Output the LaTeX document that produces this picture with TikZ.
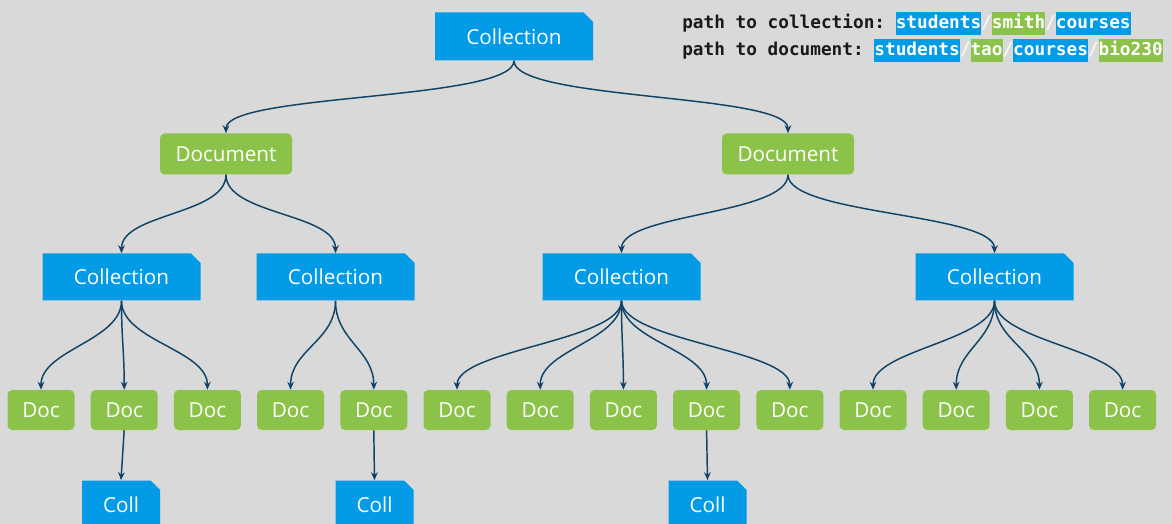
\documentclass[tikz,border=0pt]{standalone}
\usepackage{fontspec}
\setmainfont{Open Sans}
\newfontfamily\pathfont{DejaVu Sans Mono}
\usepackage{tikz}
\usetikzlibrary{arrows.meta}
\usetikzlibrary{shapes.misc}
\definecolor{collblue}{HTML}{039BE5}
\definecolor{docgreen}{HTML}{8BC34A}
\definecolor{bggray}{HTML}{D9D9D9}
\definecolor{linkblue}{HTML}{0F4468}
\newcommand{\pathpart}[2]{{\setlength{\fboxsep}{0pt}\colorbox{#1}{\rule[-4.5pt]{0pt}{17.25pt}\color{white}#2}}}
\newcommand{\pathslash}{{\color{white!85!bggray}/}}

\begin{document}
\begin{tikzpicture}[x=0.75pt, y=-0.75pt,
    coll/.style={chamfered rectangle, chamfered rectangle corners=north east,
        chamfered rectangle xsep=3.5pt, chamfered rectangle ysep=3.5pt,
        fill=collblue, text=white, inner sep=0pt, minimum width=118.5pt, minimum height=36pt,
        font=\fontsize{15.5}{18}\selectfont},
    doc/.style={rounded corners=3.5pt, fill=docgreen, text=white, inner sep=0pt,
        minimum width=50.25pt, minimum height=30pt, font=\fontsize{15.5}{18}\selectfont},
    link/.style={draw=linkblue, line width=1.1pt, -{Stealth[length=6pt, width=5pt]},
        to path={.. controls +(0,40) and +(0,-40) .. (\tikztotarget)}},
    sublink/.style={draw=linkblue, line width=1.1pt, -{Stealth[length=6pt, width=5pt]}},
    pathtext/.style={inner sep=0pt, anchor=base west, text=black!90,
        font=\pathfont\bfseries\fontsize{13.3}{16}\selectfont\frenchspacing}]
    \useasboundingbox (0, 0) rectangle (1172, 524);
    \clip (0, 0) rectangle (1172, 524);
    \fill[bggray] (0, 0) rectangle (1172, 524);

    \node[coll] (root) at (514, 36.5) {Collection};
    \node[doc, minimum width=99pt, minimum height=30.75pt] (docL) at (226, 154) {Document};
    \node[doc, minimum width=99pt, minimum height=30.75pt] (docR) at (788, 154) {Document};
    \foreach \n/\x in {A/121.5, B/335.5, C/621.5, D/994.5}
        \node[coll, minimum height=35.25pt] (coll\n) at (\x, 277) {Collection};
    \foreach \i in {1,...,14}
        \node[doc] (d\i) at ({41+83.2*(\i-1)}, 410) {Doc};
    \foreach \n/\x in {1/121, 2/374.5, 3/707.5}
        \node[coll, minimum width=58.5pt] (c\n) at (\x, 504.5) {Coll};

    \foreach \a/\b in {root/docL, root/docR, docL/collA, docL/collB, docR/collC, docR/collD,
        collA/d1, collA/d2, collA/d3, collB/d4, collB/d5,
        collC/d6, collC/d7, collC/d8, collC/d9, collC/d10,
        collD/d11, collD/d12, collD/d13, collD/d14}
        \draw[link] (\a.south) to (\b.north);
    \foreach \a/\b in {d2/c1, d5/c2, d9/c3}
        \draw[sublink] (\a.south) -- (\b.north);

    \node[pathtext] (pathcoll) at (682, 29) {path to collection: \pathpart{collblue}{students}\pathslash\pathpart{docgreen}{smith}\pathslash\pathpart{collblue}{courses}};
    \node[pathtext] (pathdoc) at (682, 56) {path to document: \pathpart{collblue}{students}\pathslash\pathpart{docgreen}{tao}\pathslash\pathpart{collblue}{courses}\pathslash\pathpart{docgreen}{bio230}};
\end{tikzpicture}
\end{document}
